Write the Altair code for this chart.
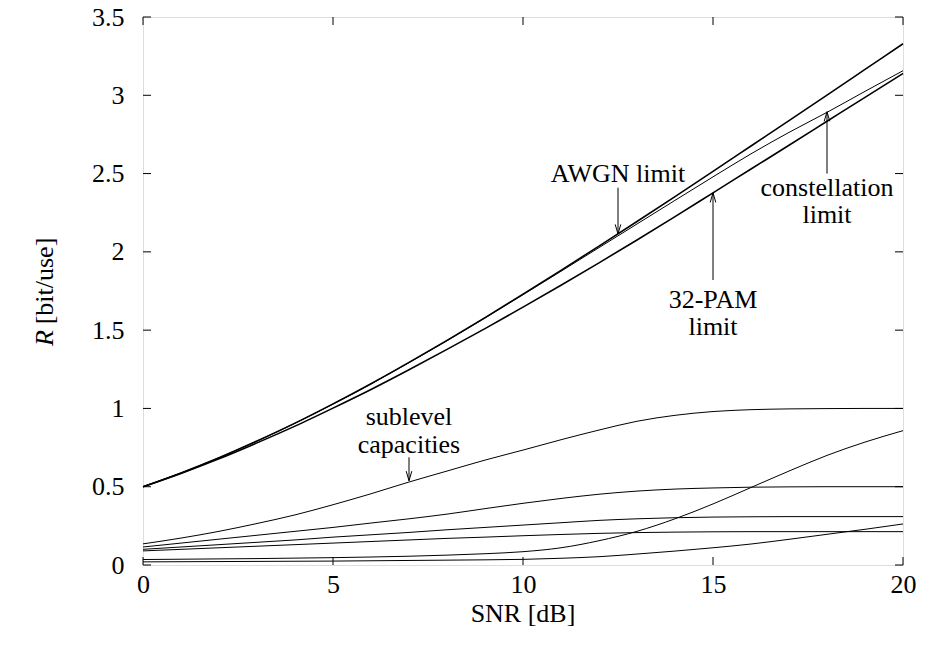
import altair as alt
import pandas as pd

# ---------------- data ----------------
snr_db = list(range(21))
awgn_limit = [0.500, 0.588, 0.685, 0.792, 0.906, 1.029, 1.158, 1.294, 1.435, 1.580, 1.730,
              1.882, 2.037, 2.194, 2.353, 2.514, 2.676, 2.838, 3.001, 3.165, 3.329]
pam32_limit = [0.500, 0.585, 0.678, 0.780, 0.887, 1.002, 1.121, 1.247, 1.377, 1.510, 1.647,
               1.787, 1.930, 2.076, 2.225, 2.377, 2.529, 2.681, 2.834, 2.987, 3.139]
constellation_limit = [0.500, 0.588, 0.685, 0.791, 0.905, 1.027, 1.156, 1.292, 1.432, 1.577, 1.726,
                       1.876, 2.027, 2.178, 2.329, 2.479, 2.626, 2.763, 2.891, 3.025, 3.157]
sublevel_1 = [0.135, 0.172, 0.215, 0.265, 0.320, 0.385, 0.455, 0.530, 0.600, 0.670, 0.734,
              0.800, 0.862, 0.918, 0.956, 0.980, 0.992, 0.997, 0.999, 1.000, 1.000]
sublevel_2 = [0.115, 0.140, 0.165, 0.190, 0.215, 0.240, 0.268, 0.295, 0.325, 0.360, 0.394,
              0.425, 0.452, 0.472, 0.485, 0.492, 0.497, 0.499, 0.500, 0.500, 0.500]
sublevel_3 = [0.100, 0.115, 0.130, 0.145, 0.160, 0.178, 0.193, 0.208, 0.225, 0.240, 0.255,
              0.270, 0.285, 0.295, 0.302, 0.306, 0.308, 0.309, 0.309, 0.309, 0.309]
sublevel_4 = [0.090, 0.100, 0.110, 0.120, 0.130, 0.140, 0.150, 0.160, 0.170, 0.178, 0.187,
              0.195, 0.202, 0.207, 0.210, 0.212, 0.213, 0.213, 0.213, 0.213, 0.213]
sublevel_5 = [0.035, 0.037, 0.039, 0.041, 0.044, 0.047, 0.051, 0.056, 0.063, 0.072, 0.085,
              0.110, 0.155, 0.215, 0.295, 0.390, 0.495, 0.600, 0.700, 0.785, 0.858]
sublevel_6 = [0.020, 0.021, 0.022, 0.023, 0.024, 0.025, 0.027, 0.029, 0.031, 0.033, 0.036,
              0.043, 0.053, 0.070, 0.089, 0.110, 0.134, 0.164, 0.196, 0.228, 0.262]

x_ticks = [0, 5, 10, 15, 20]
y_ticks = [0, 0.5, 1, 1.5, 2, 2.5, 3, 3.5]

# annotations: label lines (x, y, text) and arrows (x, tail y, tip y, direction)
label_x = [12.5, 15.0, 15.0, 18.0, 18.0, 7.0, 7.0]
label_y = [2.50, 1.69, 1.52, 2.405, 2.235, 0.947, 0.766]
label_text = ["AWGN limit", "32-PAM", "limit", "constellation", "limit", "sublevel", "capacities"]
arrow_x = [12.5, 15.0, 18.0, 7.0]
arrow_tail = [2.41, 1.82, 2.50, 0.688]
arrow_tip = [2.114, 2.377, 2.895, 0.538]
arrow_dir = ["down", "up", "up", "down"]

# ---------------- tables ----------------
thick = pd.DataFrame({
    "snr": snr_db * 2,
    "rate": awgn_limit + pam32_limit,
    "series": ["AWGN limit"] * 21 + ["32-PAM limit"] * 21,
})
thin_series = {
    "constellation limit": constellation_limit,
    "sublevel 1": sublevel_1, "sublevel 2": sublevel_2, "sublevel 3": sublevel_3,
    "sublevel 4": sublevel_4, "sublevel 5": sublevel_5, "sublevel 6": sublevel_6,
}
thin = pd.DataFrame({
    "snr": snr_db * len(thin_series),
    "rate": sum(thin_series.values(), []),
    "series": sum([[k] * 21 for k in thin_series], []),
})
labels = pd.DataFrame({"x": label_x, "y": label_y, "text": label_text})
arrows = pd.DataFrame({"x": arrow_x, "y1": arrow_tail, "y2": arrow_tip, "dir": arrow_dir})
xt = pd.DataFrame({"t": x_ticks})
yt = pd.DataFrame({"t": y_ticks})

FONT = "Liberation Serif, DejaVu Serif, Times New Roman, serif"
FS = 26
W, H = 760, 548

xs = alt.Scale(domain=[0, 20], nice=False, zero=False)
ys = alt.Scale(domain=[0, 3.5], nice=False, zero=False)

xaxis = alt.Axis(values=x_ticks, title=None, grid=False, domain=False, ticks=False,
                 labelPadding=6, labelFont=FONT, labelFontSize=FS, labelColor="black",
                 labelFlush=False, format="~g")
yaxis = alt.Axis(values=y_ticks, title=None, grid=False, domain=False, ticks=False,
                 labelPadding=19, labelFont=FONT, labelFontSize=FS, labelColor="black",
                 labelFlush=False, format="~g")

thick_lines = alt.Chart(thick).mark_line(color="black", strokeWidth=1.6, interpolate="monotone").encode(
    x=alt.X("snr:Q", scale=xs, axis=xaxis), y=alt.Y("rate:Q", scale=ys, axis=yaxis), detail="series:N")
thin_lines = alt.Chart(thin).mark_line(color="black", strokeWidth=1.0, interpolate="monotone").encode(
    x=alt.X("snr:Q", scale=xs), y=alt.Y("rate:Q", scale=ys), detail="series:N")

# inward ticks on all four sides
tick_len = 8
bottom_ticks = alt.Chart(xt).mark_rule(color="black", strokeWidth=1).encode(
    x=alt.X("t:Q", scale=xs), y=alt.value(H), y2=alt.value(H - tick_len))
top_ticks = alt.Chart(xt).mark_rule(color="black", strokeWidth=1).encode(
    x=alt.X("t:Q", scale=xs), y=alt.value(0), y2=alt.value(tick_len))
left_ticks = alt.Chart(yt).mark_rule(color="black", strokeWidth=1).encode(
    y=alt.Y("t:Q", scale=ys), x=alt.value(0), x2=alt.value(tick_len))
right_ticks = alt.Chart(yt).mark_rule(color="black", strokeWidth=1).encode(
    y=alt.Y("t:Q", scale=ys), x=alt.value(W), x2=alt.value(W - tick_len))

label_marks = alt.Chart(labels).mark_text(font=FONT, fontSize=FS, color="black",
                                          align="center", baseline="middle").encode(
    x=alt.X("x:Q", scale=xs), y=alt.Y("y:Q", scale=ys), text="text:N")

arrow_shafts = alt.Chart(arrows).mark_rule(color="black", strokeWidth=1).encode(
    x=alt.X("x:Q", scale=xs), y=alt.Y("y1:Q", scale=ys), y2="y2:Q")
head_down = alt.Chart(arrows).transform_filter("datum.dir == 'down'").mark_point(
    shape="M-0.7,-2.4L0,0L0.7,-2.4", size=64, filled=False, color="black", strokeWidth=1, opacity=1).encode(
    x=alt.X("x:Q", scale=xs), y=alt.Y("y2:Q", scale=ys))
head_up = alt.Chart(arrows).transform_filter("datum.dir == 'up'").mark_point(
    shape="M-0.7,2.4L0,0L0.7,2.4", size=64, filled=False, color="black", strokeWidth=1, opacity=1).encode(
    x=alt.X("x:Q", scale=xs), y=alt.Y("y2:Q", scale=ys))

# axis titles (y title has an italic R)
xtitle = alt.Chart(pd.DataFrame({"s": ["SNR [dB]"]})).mark_text(
    font=FONT, fontSize=FS, color="black", align="center", baseline="middle").encode(
    x=alt.value(W / 2), y=alt.value(597), text="s:N")
ytitle_r = alt.Chart(pd.DataFrame({"s": ["R"]})).mark_text(
    font=FONT, fontSize=FS, fontStyle="italic", angle=270, color="black",
    align="center", baseline="middle").encode(x=alt.value(-98), y=alt.value(321), text="s:N")
ytitle_rest = alt.Chart(pd.DataFrame({"s": ["[bit/use]"]})).mark_text(
    font=FONT, fontSize=FS, angle=270, color="black",
    align="center", baseline="middle").encode(x=alt.value(-98), y=alt.value(264), text="s:N")

chart = alt.layer(
    thick_lines, thin_lines, bottom_ticks, top_ticks, left_ticks, right_ticks,
    label_marks, arrow_shafts, head_down, head_up, xtitle, ytitle_r, ytitle_rest
).properties(
    width=W, height=H,
    autosize=alt.AutoSizeParams(type="none"),
    padding={"left": 143, "top": 17, "right": 23, "bottom": 86},
).configure_view(stroke="black", strokeWidth=1.6).configure(background="white")

chart.save("out.html", embed_options={"renderer": "svg", "actions": False})
